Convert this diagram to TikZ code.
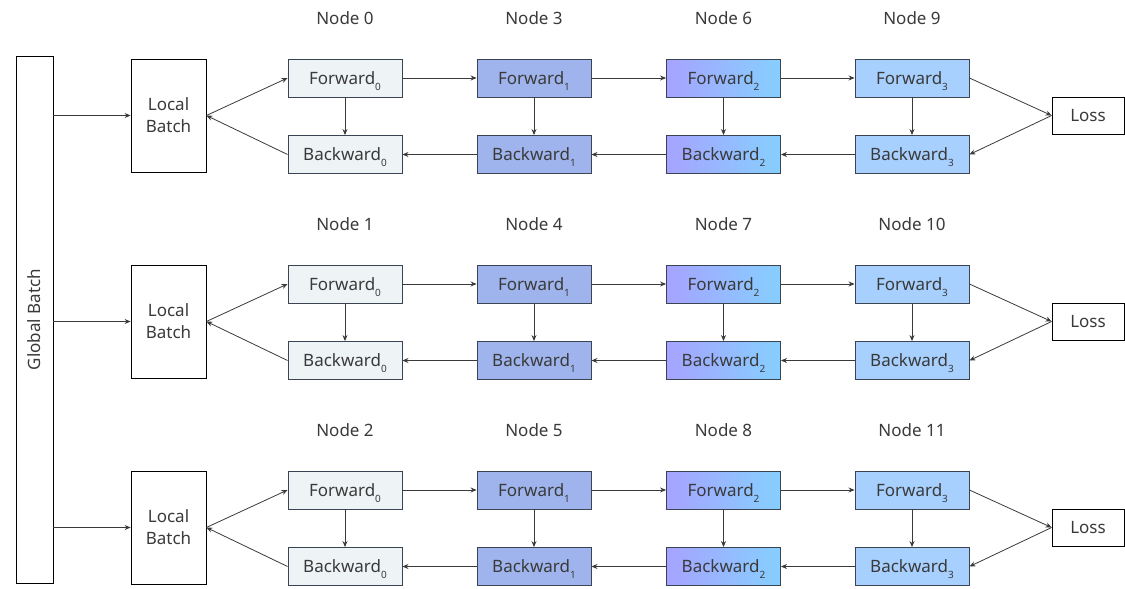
\documentclass[tikz,border=0pt]{standalone}
\usepackage{fontspec}
\setmainfont{Noto Sans}
\usetikzlibrary{arrows.meta}
\definecolor{txt}{HTML}{3A3A3A}
\definecolor{edge}{HTML}{3A4452}
\definecolor{fzero}{HTML}{EEF3F5}
\definecolor{fone}{HTML}{9FB4EC}
\definecolor{ftwoL}{HTML}{A6A3FF}
\definecolor{ftwoR}{HTML}{86CFFF}
\definecolor{fthree}{HTML}{A7D0FF}
\tikzset{
  box/.style={draw=edge, line width=0.9pt, minimum width=114pt, minimum height=38pt, inner sep=0pt, text=txt, font=\fontsize{17}{17}\selectfont},
  c0/.style={box, fill=fzero},
  c1/.style={box, fill=fone},
  c2/.style={box, left color=ftwoL, right color=ftwoR},
  c3/.style={box, fill=fthree},
  plain/.style={draw=black, line width=0.8pt, fill=white, inner sep=0pt, text=txt, font=\fontsize{17}{22}\selectfont, align=center},
  lbl/.style={text=txt, font=\fontsize{17}{17}\selectfont},
  arr/.style={draw=txt, line width=0.8pt, -{Stealth[length=6pt,width=5pt]}}
}
\newcommand{\sbs}[1]{\raisebox{-0.35em}[0pt][0pt]{\fontsize{10}{10}\selectfont #1}}
\begin{document}
\begin{tikzpicture}[x=1pt,y=-1pt]
\useasboundingbox (0,0) rectangle (1125,589);
\node[plain, minimum width=37pt, minimum height=527pt] (G) at (34.5,319.5) {};
\node[lbl, rotate=90] (Gt) at (34.5,319.5) {Global Batch};
\foreach \i in {0,1,2}{
  \pgfmathsetmacro{\yo}{206*\i}
  \pgfmathtruncatemacro{\na}{\i}
  \pgfmathtruncatemacro{\nb}{\i+3}
  \pgfmathtruncatemacro{\nc}{\i+6}
  \pgfmathtruncatemacro{\nd}{\i+9}
  \node[lbl] (N0\i) at (345,18+\yo) {Node \na};
  \node[lbl] (N1\i) at (534,18+\yo) {Node \nb};
  \node[lbl] (N2\i) at (723.5,18+\yo) {Node \nc};
  \node[lbl] (N3\i) at (912,18+\yo) {Node \nd};
  \node[plain, minimum width=75pt, minimum height=113pt] (L\i) at (168.5,115.5+\yo) {Local\\Batch};
  \node[c0] (F0\i) at (345,78+\yo) {Forward\sbs{0}};
  \node[c1] (F1\i) at (534,78+\yo) {Forward\sbs{1}};
  \node[c2] (F2\i) at (723.5,78+\yo) {Forward\sbs{2}};
  \node[c3] (F3\i) at (912,78+\yo) {Forward\sbs{3}};
  \node[c0] (B0\i) at (345,154.5+\yo) {Backward\sbs{0}};
  \node[c1] (B1\i) at (534,154.5+\yo) {Backward\sbs{1}};
  \node[c2] (B2\i) at (723.5,154.5+\yo) {Backward\sbs{2}};
  \node[c3] (B3\i) at (912,154.5+\yo) {Backward\sbs{3}};
  \node[plain, minimum width=72pt, minimum height=37pt] (S\i) at (1088,115.5+\yo) {Loss};
  \draw[arr] (G.east |- L\i.west) -- (L\i.west);
  \draw[arr] (L\i.east) -- (F0\i.west);
  \draw[arr] (B0\i.west) -- (L\i.east);
  \draw[arr] (F0\i) -- (F1\i);
  \draw[arr] (F1\i) -- (F2\i);
  \draw[arr] (F2\i) -- (F3\i);
  \draw[arr] (B3\i) -- (B2\i);
  \draw[arr] (B2\i) -- (B1\i);
  \draw[arr] (B1\i) -- (B0\i);
  \draw[arr] (F0\i) -- (B0\i);
  \draw[arr] (F1\i) -- (B1\i);
  \draw[arr] (F2\i) -- (B2\i);
  \draw[arr] (F3\i) -- (B3\i);
  \draw[arr] (F3\i.east) -- (S\i.west);
  \draw[arr] (S\i.west) -- (B3\i.east);
}
\end{tikzpicture}
\end{document}
